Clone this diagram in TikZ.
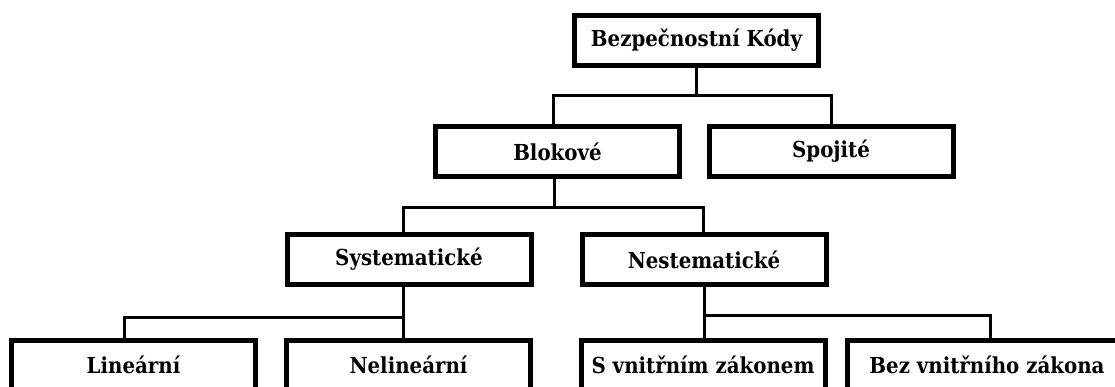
\documentclass[tikz,border=0pt]{standalone}
\usepackage{fontspec}
\newfontfamily\boxfont{DejaVu Serif}[FakeStretch=0.9]
\begin{document}
\begin{tikzpicture}[x=1pt,y=-1pt,
  kbox/.style={draw=black,line width=5pt,fill=white,minimum width=244pt,minimum height=50pt,inner sep=0pt,
    font=\boxfont\bfseries\fontsize{22}{26}\selectfont},
  conn/.style={draw=black,line width=3pt}]
\useasboundingbox (0,0) rectangle (1115,387);
\clip (0,0) rectangle (1115,387);
\fill[white] (0,0) rectangle (1115,387);
\node[kbox] (top) at (696.5,40.5) {Bezpečnostní Kódy};
\node[kbox] (blok) at (557.5,151.5) {Blokové};
\node[kbox] (spoj) at (831,151.5) {Spojité};
\node[kbox] (sys) at (409,259.5) {Systematické};
\node[kbox] (nes) at (704,259.5) {Nestematické};
\node[kbox] (lin) at (133.5,365) {Lineární};
\node[kbox] (nelin) at (408.5,365) {Nelineární};
\node[kbox] (svn) at (703,365) {S vnitřním zákonem};
\node[kbox,minimum width=279pt] (bez) at (987,365) {Bez vnitřního zákona};
% connectors
\draw[conn] ([xshift=-0.5pt]top.south) -- ([xshift=-0.5pt]top.south |- 0,96) -| ([xshift=-4.5pt]blok.north);
\draw[conn] ([xshift=-0.5pt]top.south |- 0,96) -| (spoj.north);
\draw[conn] ([xshift=-3.5pt]blok.south) -- ([xshift=-3.5pt]blok.south |- 0,208) -| ([xshift=-6pt]sys.north);
\draw[conn] ([xshift=-3.5pt]blok.south |- 0,208) -| ([xshift=-1pt]nes.north);
\draw[conn] ([xshift=-6pt]sys.south) -- ([xshift=-6pt]sys.south |- 0,317) -| ([xshift=-9.5pt]lin.north);
\draw[conn] ([xshift=-6pt]sys.south |- 0,317) -- ([xshift=-6pt]sys.south |- nelin.north);
\draw[conn] (nes.south) -- (nes.south |- 0,315) -| ([xshift=3pt]bez.north);
\draw[conn] (nes.south |- 0,315) -- (nes.south |- svn.north);
\end{tikzpicture}
\end{document}
